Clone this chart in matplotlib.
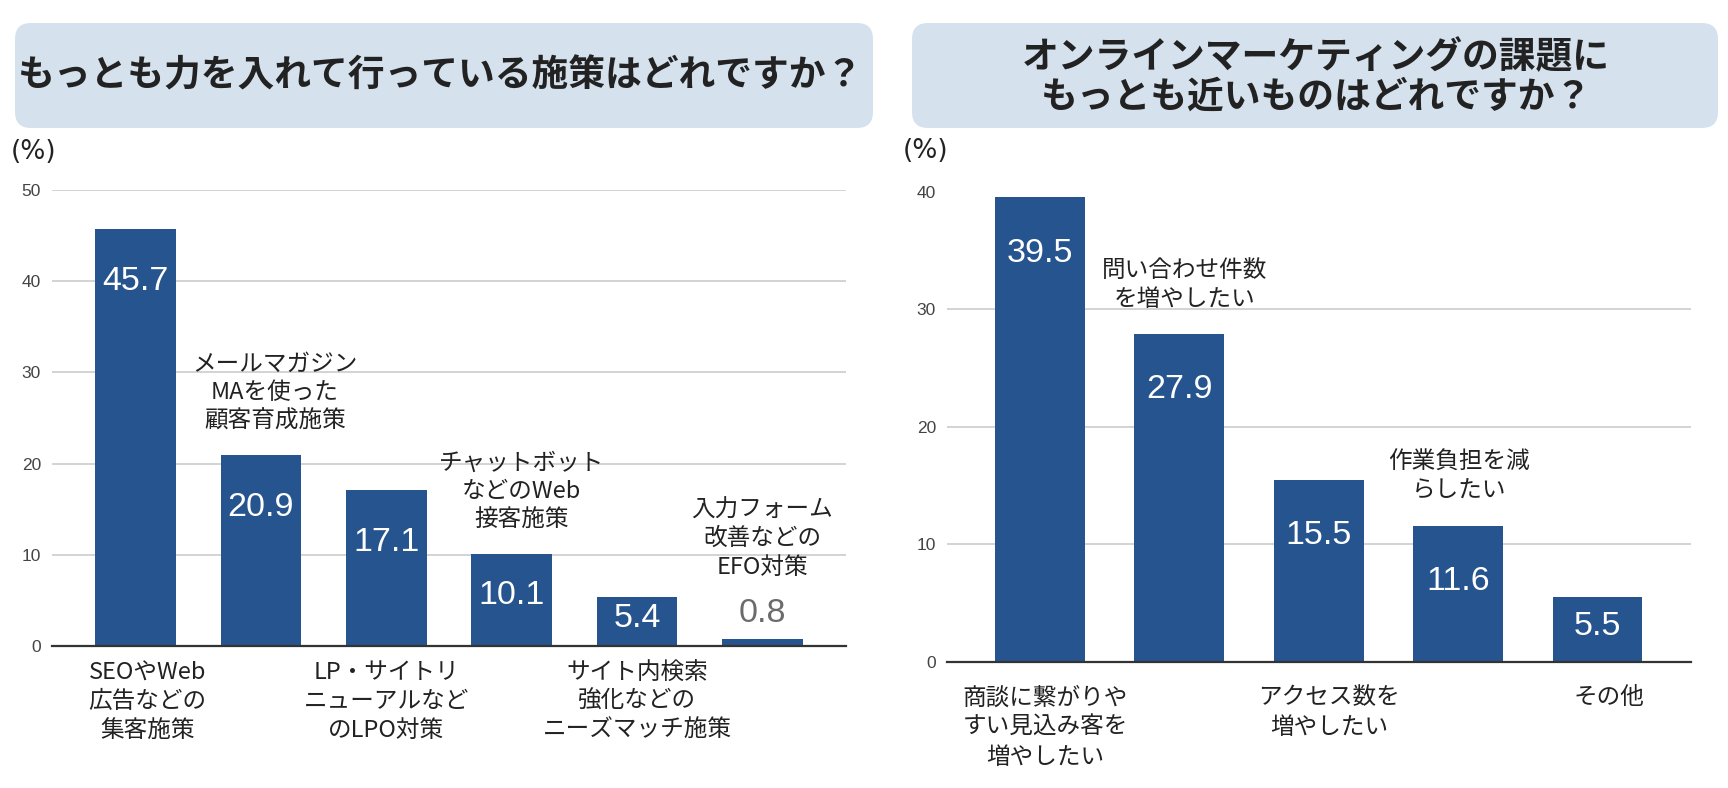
import matplotlib

matplotlib.use("Agg")

import matplotlib.pyplot as plt
from matplotlib.patches import FancyBboxPatch
from matplotlib.transforms import IdentityTransform

plt.rcParams["font.family"] = ["Noto Sans CJK JP", "DejaVu Sans"]

W, H, DPI = 1728, 788, 100

# --- data -------------------------------------------------------------------
left_title = ["もっとも力を入れて行っている施策はどれですか？"]
left_values = [45.7, 20.9, 17.1, 10.1, 5.4, 0.8]
left_labels = [
    "SEOやWeb\n広告などの\n集客施策",
    "メールマガジン\nMAを使った\n顧客育成施策",
    "LP・サイトリ\nニューアルなど\nのLPO対策",
    "チャットボット\nなどのWeb\n接客施策",
    "サイト内検索\n強化などの\nニーズマッチ施策",
    "入力フォーム\n改善などの\nEFO対策",
]
left_ticks = [0, 10, 20, 30, 40, 50]

right_title = ["オンラインマーケティングの課題に", "もっとも近いものはどれですか？"]
right_values = [39.5, 27.9, 15.5, 11.6, 5.5]
right_labels = [
    "商談に繋がりや\nすい見込み客を\n増やしたい",
    "問い合わせ件数\nを増やしたい",
    "アクセス数を\n増やしたい",
    "作業負担を減\nらしたい",
    "その他",
]
right_ticks = [0, 10, 20, 30, 40]

# --- style --------------------------------------------------------------------
BAR = "#26548f"
BOX = "#d5e2ee"
TEXT = "#222222"
NUM_FONT = "Liberation Sans"


def pt(px):
    return px * 72 / DPI


fig = plt.figure(figsize=(W / DPI, H / DPI), dpi=DPI)


def title_box(x0, x1, y0, y1, lines, cy_list, cx):
    box = FancyBboxPatch(
        (x0, H - y1), x1 - x0, y1 - y0,
        boxstyle="round,pad=0,rounding_size=16",
        facecolor=BOX, edgecolor="none", transform=IdentityTransform(),
    )
    fig.add_artist(box)
    for line, cy in zip(lines, cy_list):
        fig.text(cx / W, 1 - cy / H, line, ha="center", va="center",
                 fontsize=26.5, fontweight="bold", color=TEXT)


def panel(rect, values, labels, ticks, below_first_px, line_px, nudges, pct_xy):
    l, r, top, bot = rect
    ax = fig.add_axes([l / W, (H - bot) / H, (r - l) / W, (bot - top) / H])
    n = len(values)
    x = list(range(n))
    ax.bar(x, values, width=0.645, color=BAR, zorder=2)
    ax.set_xlim(-0.667, n - 1 + 0.667)
    ax.set_ylim(0, ticks[-1])
    ax.set_yticks(ticks)
    ax.set_xticks([])
    ax.yaxis.grid(True, color="#d0d0d0", linewidth=1.3)
    ax.set_axisbelow(True)
    for s in ax.spines.values():
        s.set_visible(False)
    ax.axhline(0, color="#333333", linewidth=1.6, clip_on=False, zorder=3)
    ax.tick_params(axis="y", length=0, pad=pt(11), labelsize=12.5, labelcolor="#444444")
    for t in ax.get_yticklabels():
        t.set_fontfamily(NUM_FONT)

    ppu = (bot - top) / ticks[-1]
    for i, v in enumerate(values):
        bar_px = v * ppu
        if bar_px < 30:
            ax.annotate(f"{v}", (i, v), xytext=(0, pt(25)), textcoords="offset points",
                        ha="center", va="center", fontsize=24.5, color="#6b6b6b",
                        fontfamily=NUM_FONT)
            anchor_px = 37.5
        else:
            off = min(52 if ticks[-1] == 50 else 56, 0.45 * bar_px)
            ax.annotate(f"{v}", (i, v), xytext=(0, -pt(off)), textcoords="offset points",
                        ha="center", va="center", fontsize=24.5, color="white",
                        fontfamily=NUM_FONT, zorder=4)
            anchor_px = 0

        lines = labels[i].split("\n")
        dx = pt(nudges[i])
        if i % 2 == 0:
            for k, line in enumerate(lines):
                ax.annotate(line, (i, 0), xytext=(dx, -pt(below_first_px + k * line_px)),
                            textcoords="offset points", ha="center", va="center",
                            fontsize=17, color=TEXT, annotation_clip=False)
        else:
            m = len(lines)
            for k, line in enumerate(lines):
                up = anchor_px + 34 + (m - 1 - k) * line_px
                ax.annotate(line, (i, v), xytext=(dx, pt(up)),
                            textcoords="offset points", ha="center", va="center",
                            fontsize=17, color=TEXT, annotation_clip=False)

    fig.text(pct_xy[0] / W, 1 - pct_xy[1] / H, "(%)", ha="left", va="center",
             fontsize=19, color=TEXT, family="DejaVu Sans")
    return ax


title_box(15, 873, 23, 128, left_title, [76], 441)
title_box(912, 1718, 23, 128, right_title, [58, 97], 1316)

panel((52, 846, 190, 646), left_values, left_labels, left_ticks,
      27, 28.5, [12, 14, 0, 10, 0, 0], (11, 152))
panel((947, 1690.5, 191.5, 662), right_values, right_labels, right_ticks,
      36, 29.5, [5, 5, 10, 1, 11], (903, 151))

fig.savefig("out.png", dpi=DPI)
